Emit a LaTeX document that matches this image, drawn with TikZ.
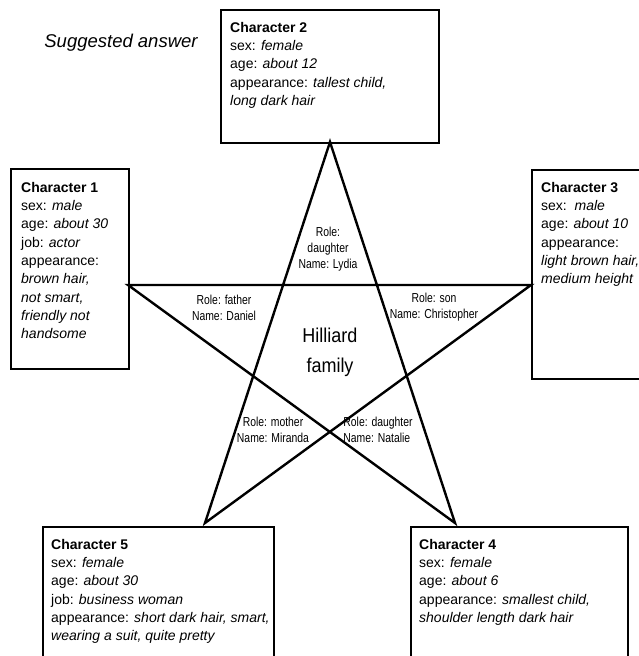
\documentclass[tikz,border=0pt]{standalone}
\usepackage{fontspec}
\setmainfont{Liberation Sans}
\newfontfamily\narrowfont[FakeStretch=0.8]{Liberation Sans}
\newfontfamily\familyfont[FakeStretch=0.9]{Liberation Sans}
\begin{document}
\begin{tikzpicture}[x=1pt, y=-1pt,
    charbox/.style={draw, line width=1.8pt, inner sep=0pt, anchor=north west},
    chartext/.style={anchor=north west, inner sep=0pt, align=left,
      font=\fontsize{14}{18.3}\selectfont},
    rolelabel/.style={inner sep=0pt, align=center,
      font=\narrowfont\fontsize{13}{16}\selectfont},
    starline/.style={line width=2.4pt, line join=miter}]
    \useasboundingbox (0,0) rectangle (639,656);
    \clip (0,0) rectangle (639,656);
    % title
    \node[font=\itshape\fontsize{18.5}{22}\selectfont] (title) at (121,43) {Suggested answer};
    % character boxes
    \node[charbox, minimum width=218pt, minimum height=133pt] (c2) at (220,9) {};
    \node[charbox, minimum width=118pt, minimum height=200pt] (c1) at (10,168) {};
    \node[charbox, minimum width=130pt, minimum height=209pt] (c3) at (531,169) {};
    \node[charbox, minimum width=231pt, minimum height=160pt] (c5) at (42,526) {};
    \node[charbox, minimum width=217pt, minimum height=160pt] (c4) at (410,526) {};
    \node[chartext] (t2) at ([shift={(10,13)}]c2.north west)
      {\textbf{Character 2}\\sex: \textit{female}\\age: \textit{about 12}\\
       appearance: \textit{tallest child,}\\\textit{long dark hair}};
    \node[chartext] (t1) at ([shift={(11,14)}]c1.north west)
      {\textbf{Character 1}\\sex: \textit{male}\\age: \textit{about 30}\\job: \textit{actor}\\
       appearance:\\\textit{brown hair,}\\\textit{not smart,}\\\textit{friendly not}\\\textit{handsome}};
    \node[chartext] (t3) at ([shift={(10,13)}]c3.north west)
      {\textbf{Character 3}\\sex:\ \ \textit{male}\\age: \textit{about 10}\\appearance:\\
       \textit{light brown hair,}\\\textit{medium height}};
    \node[chartext] (t5) at ([shift={(9,13)}]c5.north west)
      {\textbf{Character 5}\\sex: \textit{female}\\age: \textit{about 30}\\job: \textit{business woman}\\
       appearance: \textit{short dark hair, smart,}\\\textit{wearing a suit, quite pretty}};
    \node[chartext] (t4) at ([shift={(9,13)}]c4.north west)
      {\textbf{Character 4}\\sex: \textit{female}\\age: \textit{about 6}\\
       appearance: \textit{smallest child,}\\\textit{shoulder length dark hair}};
    % star tips
    \coordinate (tipT) at (330,142);
    \coordinate (tipL) at (128,285);
    \coordinate (tipR) at (531,285);
    \coordinate (tipBL) at (205,523);
    \coordinate (tipBR) at (455,523);
    \draw[starline] (tipT) -- (tipBL) -- (tipR) -- (tipL) -- (tipBR) -- cycle;
    % roles
    \node[rolelabel] (lydia) at (328,249) {Role:\\daughter\\Name: Lydia};
    \node[rolelabel] (daniel) at (224,308) {Role: father\\Name: Daniel};
    \node[rolelabel] (chris) at (434,307) {Role: son\\Name: Christopher};
    \node[rolelabel] (miranda) at (273,430) {Role: mother\\Name: Miranda};
    \node[rolelabel, align=left] (natalie) at (378,430) {Role: daughter\\Name: Natalie};
    \node[align=center, inner sep=0pt, font=\familyfont\fontsize{20}{30}\selectfont] (family) at (330,352) {Hilliard\\family};
  \end{tikzpicture}
\end{document}
